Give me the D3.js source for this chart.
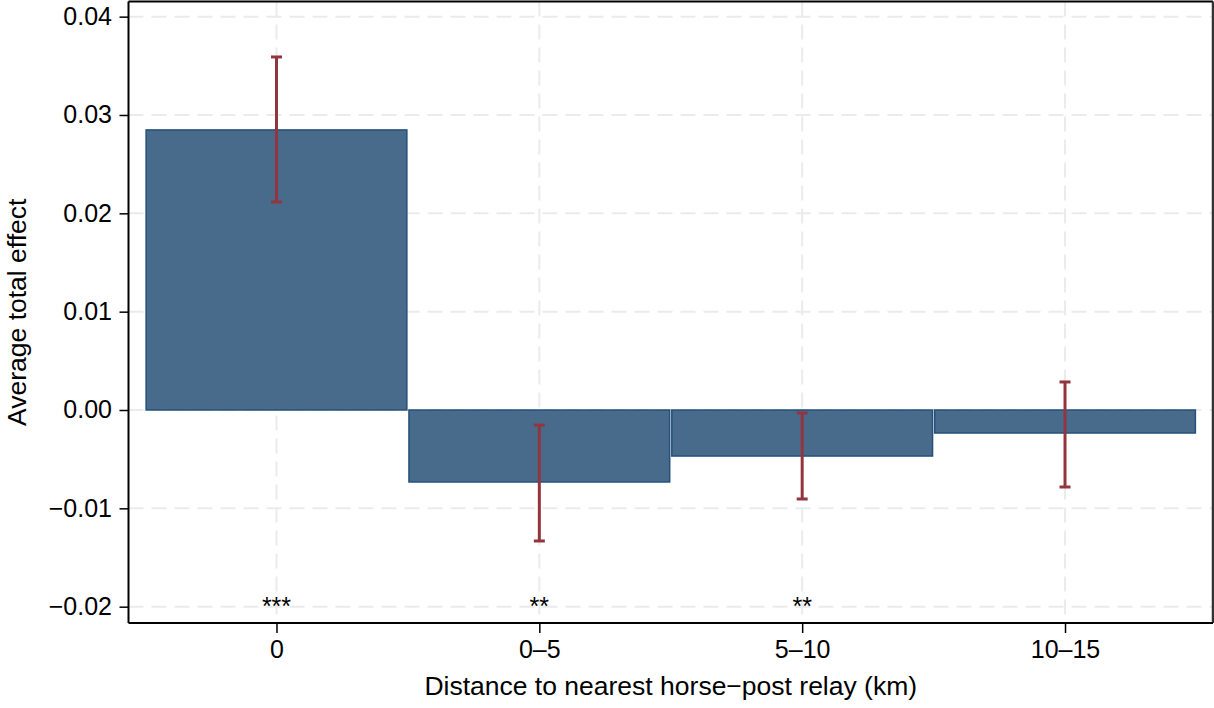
<!DOCTYPE html>
<html><head><meta charset="utf-8">
<script src="https://cdn.jsdelivr.net/npm/d3@7"></script>
<style>body{margin:0;background:#fff}svg{display:block;font-family:"Liberation Sans",Arial,Helvetica,sans-serif}</style>
</head><body><svg id="c" width="1214" height="708"></svg>
<script>
const categories = ["0", "0\u20135", "5\u201310", "10\u201315"];
const effects = [0.02848, -0.00732, -0.00468, -0.00234];
const ciLow = [0.02115, -0.01332, -0.00905, -0.00783];
const ciHigh = [0.0359, -0.00153, -0.0003, 0.00285];
const stars = ["***", "**", "**", ""];
const yTicks = [-0.02, -0.01, 0, 0.01, 0.02, 0.03, 0.04];

const svg = d3.select("#c");
const L = 128.5, R = 1213, T = 1.5, B = 623;
const x = d3.scaleLinear().domain([-0.563, 3.563]).range([L, R]);
const y = d3.scaleLinear().domain([-0.02166, 0.04154]).range([B, T]);
const fmt = v => (v < 0 ? "\u2212" : "") + Math.abs(v).toFixed(2);

// gridlines
const g = svg.append("g");
g.selectAll("line.h").data(yTicks).join("line")
  .attr("x1", L).attr("x2", R).attr("y1", d => y(d)).attr("y2", d => y(d))
  .attr("stroke", "#ebebeb").attr("stroke-width", 2).attr("stroke-dasharray", "15,8");
g.selectAll("line.v").data(categories).join("line")
  .attr("x1", (d, i) => x(i)).attr("x2", (d, i) => x(i)).attr("y1", T).attr("y2", B)
  .attr("stroke", "#ebebeb").attr("stroke-width", 2).attr("stroke-dasharray", "15,8");

// bars
const bw = 0.992;
svg.selectAll("rect.bar").data(effects).join("rect")
  .attr("x", (d, i) => x(i - bw / 2)).attr("width", x(bw) - x(0))
  .attr("y", d => y(Math.max(0, d))).attr("height", d => Math.abs(y(d) - y(0)))
  .attr("fill", "#486b8b").attr("stroke", "#24507a").attr("stroke-width", 1.5);

// error bars
const eb = svg.append("g").attr("stroke", "#93353f").attr("stroke-width", 3);
categories.forEach((c, i) => {
  eb.append("line").attr("x1", x(i)).attr("x2", x(i)).attr("y1", y(ciLow[i])).attr("y2", y(ciHigh[i]));
  [ciLow[i], ciHigh[i]].forEach(v => eb.append("line")
    .attr("x1", x(i) - 5.5).attr("x2", x(i) + 5.5).attr("y1", y(v)).attr("y2", y(v)));
});

// stars
svg.selectAll("text.star").data(stars).join("text")
  .attr("x", (d, i) => x(i)).attr("y", 615).attr("text-anchor", "middle")
  .attr("font-size", 25).attr("fill", "#000").text(d => d);

// frame
svg.append("line").attr("x1", L).attr("x2", R).attr("y1", T).attr("y2", T).attr("stroke", "#000").attr("stroke-width", 2);
svg.append("line").attr("x1", R).attr("x2", R).attr("y1", T).attr("y2", B).attr("stroke", "#333").attr("stroke-width", 2.5);

// axes
const ya = svg.append("g").attr("transform", `translate(${L},0)`)
  .call(d3.axisLeft(y).tickValues(yTicks).tickFormat(fmt).tickSize(9).tickPadding(7.5));
ya.select(".domain").attr("stroke", "#000").attr("stroke-width", 2).attr("d", `M0,${T}V${B}`);
ya.selectAll(".tick line").attr("stroke", "#000").attr("stroke-width", 1.5);
ya.selectAll("text").attr("font-size", 25).attr("font-family", null).attr("fill", "#000");

const xa = svg.append("g").attr("transform", `translate(0,${B})`)
  .call(d3.axisBottom(x).tickValues([0, 1, 2, 3]).tickFormat(i => categories[i]).tickSize(10).tickPadding(7.5));
xa.select(".domain").attr("stroke", "#000").attr("stroke-width", 2).attr("d", `M${L},0H${R}`);
xa.selectAll(".tick line").attr("stroke", "#000").attr("stroke-width", 1.5);
xa.selectAll("text").attr("font-size", 25).attr("font-family", null).attr("fill", "#000");

// titles
svg.append("text").attr("x", (L + R) / 2).attr("y", 695).attr("text-anchor", "middle")
  .attr("font-size", 26.5).text("Distance to nearest horse\u2212post relay (km)");
svg.append("text").attr("transform", `translate(26,${(T + B) / 2}) rotate(-90)`).attr("text-anchor", "middle")
  .attr("font-size", 26.5).text("Average total effect");
</script></body></html>
